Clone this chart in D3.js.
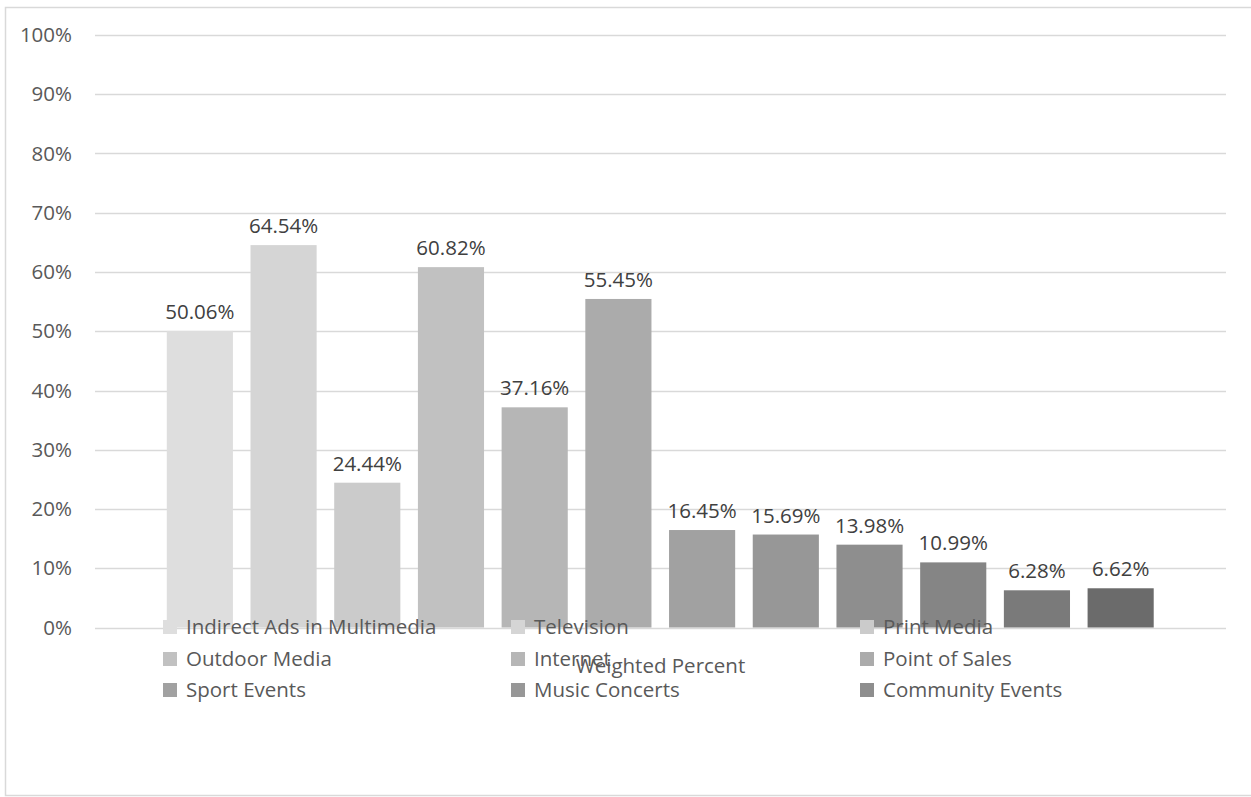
<!DOCTYPE html>
<html><head><meta charset="utf-8">
<script src="https://cdn.jsdelivr.net/npm/d3@7"></script>
<style>body{margin:0;background:#fff}svg{display:block}</style>
</head><body><div id="chart"></div>
<script>
const seriesNames = ["Indirect Ads in Multimedia","Television","Print Media","Outdoor Media","Internet","Point of Sales","Sport Events","Music Concerts","Community Events","Series 10","Series 11","Series 12"];
const values = [50.06,64.54,24.44,60.82,37.16,55.45,16.45,15.69,13.98,10.99,6.28,6.62];
const colors = ["#dedede","#d5d5d5","#cbcbcb","#c1c1c1","#b6b6b6","#ababab","#a1a1a1","#979797","#8e8e8e","#858585","#7a7a7a","#6b6b6b"];
const yTicks = [0,10,20,30,40,50,60,70,80,90,100];
const legendCount = 9;
const axisTitle = "Weighted Percent";

const W = 1251, H = 797;
const font = "'Open Sans', sans-serif";
const svg = d3.select("#chart").append("svg").attr("width", W).attr("height", H);

svg.append("rect").attr("x",5.5).attr("y",7.5).attr("width",W+10).attr("height",788)
  .attr("fill","#fff").attr("stroke","#d9d9d9").attr("stroke-width",1.5);

const plotL = 95, plotR = 1226;
const y = d3.scaleLinear().domain([0,100]).range([627.5,35]);
const x = d3.scaleBand().domain(seriesNames).range([158,1162.5]).paddingInner(0.21).paddingOuter(0.105);

// gridlines
svg.append("g").selectAll("line").data(yTicks).join("line")
  .attr("x1",plotL).attr("x2",plotR)
  .attr("y1",d=>Math.round(y(d))+0.5).attr("y2",d=>Math.round(y(d))+0.5)
  .attr("stroke","#d9d9d9").attr("stroke-width",1.5);

// y tick labels
svg.append("g").selectAll("text").data(yTicks).join("text")
  .attr("x",72).attr("y",d=>y(d)).attr("dy","0.35em").attr("text-anchor","end")
  .attr("font-family",font).attr("font-size",20.5).attr("fill","#595959")
  .text(d=>d+"%");

// bars
svg.append("g").selectAll("rect").data(values).join("rect")
  .attr("x",(d,i)=>x(seriesNames[i])).attr("width",x.bandwidth())
  .attr("y",d=>y(d)).attr("height",d=>y(0)-y(d))
  .attr("fill",(d,i)=>colors[i]);

// data labels
svg.append("g").selectAll("text").data(values).join("text")
  .attr("x",(d,i)=>x(seriesNames[i])+x.bandwidth()/2).attr("y",d=>y(d)-12)
  .attr("text-anchor","middle").attr("font-family",font).attr("font-size",20.5).attr("fill","#404040")
  .text(d=>d.toFixed(2)+"%");

// legend
const legCols = [163,511,860], legRows = [627,659,690];
const leg = svg.append("g").selectAll("g").data(seriesNames.slice(0,legendCount)).join("g")
  .attr("transform",(d,i)=>`translate(${legCols[i%3]},${legRows[Math.floor(i/3)]})`);
leg.append("rect").attr("x",0).attr("y",-7).attr("width",14).attr("height",14)
  .attr("fill",(d,i)=>colors[i]);
leg.append("text").attr("x",23).attr("y",0).attr("dy","0.35em")
  .attr("font-family",font).attr("font-size",20.5).attr("fill","#595959").text(d=>d);

// axis title
svg.append("text").attr("x",(plotL+plotR)/2).attr("y",666).attr("dy","0.35em")
  .attr("text-anchor","middle").attr("font-family",font).attr("font-size",20.5).attr("fill","#595959")
  .text(axisTitle);
</script></body></html>
